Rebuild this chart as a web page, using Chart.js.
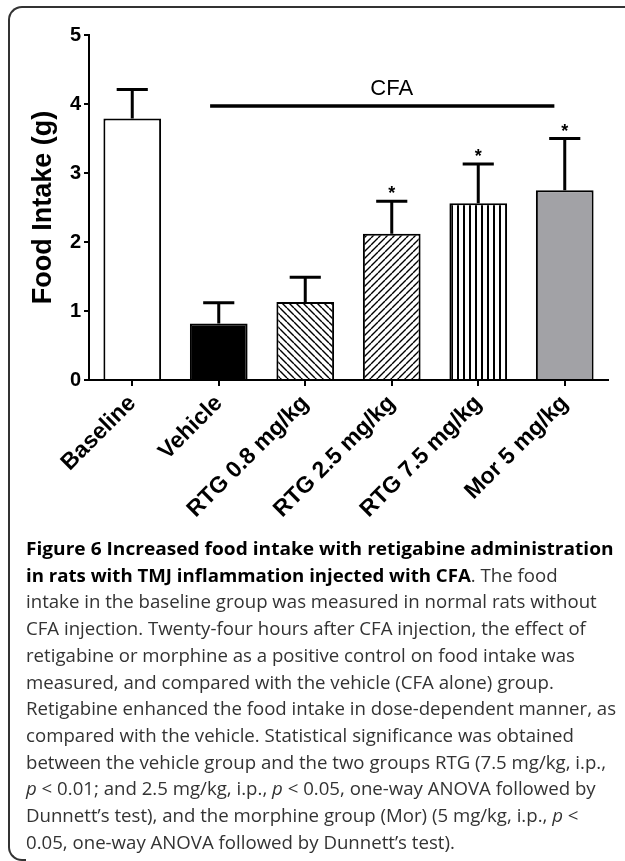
<!DOCTYPE html>
<html>
<head>
<meta charset="utf-8">
<script src="https://cdn.jsdelivr.net/npm/chart.js@4.4.0/dist/chart.umd.min.js"></script>
<style>
  body { margin: 0; background: #fff; width: 625px; height: 861px; overflow: hidden; position: relative; }
  #frame { position: absolute; left: 8px; top: 6px; width: 640px; height: 851px;
           border-left: 2px solid #333; border-top: 2px solid #333; border-bottom: 2px solid #333;
           border-radius: 14px 0 0 14px; }
  #cover { position: absolute; left: 26px; top: 850px; width: 620px; height: 12px; background: #fff; }
  #chartBox { position: absolute; left: 0; top: 0; width: 625px; height: 540px; }
  #caption { position: absolute; left: 26px; top: 535px; font-family: "Open Sans", sans-serif;
             font-size: 18px; line-height: 26.7px; color: #333; white-space: nowrap; }
  #caption div { transform: scaleX(1.035); transform-origin: 0 50%; }
  #caption div.first { transform: scaleX(1.062); }
  #caption b { color: #000; }
</style>
</head>
<body>
<div id="frame"></div>
<div id="cover"></div>
<div id="chartBox"><canvas id="foodChart"></canvas></div>
<div id="caption">
  <div class="first"><b>Figure 6 Increased food intake with retigabine administration</b></div>
  <div><b>in rats with TMJ inflammation injected with CFA</b>. The food</div>
  <div>intake in the baseline group was measured in normal rats without</div>
  <div>CFA injection. Twenty-four hours after CFA injection, the effect of</div>
  <div>retigabine or morphine as a positive control on food intake was</div>
  <div>measured, and compared with the vehicle (CFA alone) group.</div>
  <div>Retigabine enhanced the food intake in dose-dependent manner, as</div>
  <div>compared with the vehicle. Statistical significance was obtained</div>
  <div>between the vehicle group and the two groups RTG (7.5 mg/kg, i.p.,</div>
  <div><i>p</i> &lt; 0.01; and 2.5 mg/kg, i.p., <i>p</i> &lt; 0.05, one-way ANOVA followed by</div>
  <div>Dunnett’s test), and the morphine group (Mor) (5 mg/kg, i.p., <i>p</i> &lt;</div>
  <div>0.05, one-way ANOVA followed by Dunnett’s test).</div>
</div>
<script>
// data
const groups = ['Baseline', 'Vehicle', 'RTG 0.8 mg/kg', 'RTG 2.5 mg/kg', 'RTG 7.5 mg/kg', 'Mor 5 mg/kg'];
const means  = [3.79, 0.82, 1.13, 2.12, 2.56, 2.75];
const sem    = [0.42, 0.30, 0.36, 0.47, 0.57, 0.75];
const stars  = ['', '', '', '*', '*', '*'];
const yTicks = [0, 1, 2, 3, 4, 5];
const cfaLevel = 3.97;

const FONT = "'Liberation Sans', Arial, sans-serif";

/* ---------- hatch patterns ---------- */
function makePattern(kind) {
  const c = document.createElement('canvas');
  const s = kind === 'vert' ? 6 : 7;
  c.width = s; c.height = s;
  const g = c.getContext('2d');
  g.fillStyle = '#fff';
  g.fillRect(0, 0, s, s);
  g.strokeStyle = '#000';
  g.beginPath();
  if (kind === 'vert') {
    g.lineWidth = 2;
    g.moveTo(2, 0); g.lineTo(2, s);
  } else {
    g.lineWidth = 1.4;
    for (let k = -s; k <= s; k += s) {
      if (kind === 'back') { g.moveTo(k, 0); g.lineTo(k + s, s); }
      else { g.moveTo(k + s, 0); g.lineTo(k, s); }
    }
  }
  g.stroke();
  return g.createPattern(c, 'repeat');
}

const fills = ['#ffffff', '#000000', makePattern('back'), makePattern('fwd'), makePattern('vert'), '#a2a2a6'];

/* ================= OVERLAY: error bars, CFA bracket, stars ================= */
const overlay = {
  id: 'overlay',
  afterDatasetsDraw(chart) {
    const { ctx, scales: { x, y } } = chart;
    const step = x.getPixelForValue(1) - x.getPixelForValue(0);
    const capHalf = step * 0.18;
    ctx.save();
    ctx.strokeStyle = '#000';
    ctx.fillStyle = '#000';
    ctx.lineWidth = 3;
    means.forEach((m, i) => {
      const cx = x.getPixelForValue(i);
      const yTop = y.getPixelForValue(m + sem[i]);
      ctx.beginPath();
      ctx.moveTo(cx, y.getPixelForValue(m));
      ctx.lineTo(cx, yTop);
      ctx.moveTo(cx - capHalf, yTop);
      ctx.lineTo(cx + capHalf, yTop);
      ctx.stroke();
      if (stars[i]) {
        ctx.font = 'bold 18px ' + FONT;
        ctx.textAlign = 'center';
        ctx.textBaseline = 'alphabetic';
        ctx.fillText(stars[i], cx, yTop - 2);
      }
    });

    // CFA bracket line
    const by = y.getPixelForValue(cfaLevel);
    ctx.lineWidth = 3.5;
    ctx.beginPath();
    ctx.moveTo(x.getPixelForValue(1) - step * 0.1, by);
    ctx.lineTo(x.getPixelForValue(5) - step * 0.12, by);
    ctx.stroke();
    ctx.font = '22px ' + FONT;
    ctx.textAlign = 'center';
    ctx.textBaseline = 'middle';
    ctx.fillText('CFA', x.getPixelForValue(3), by - 17);
    ctx.restore();
  }
};

const ctx = document.getElementById('foodChart');

new Chart(ctx, {
  type: 'bar',
  data: {
    labels: groups,
    datasets: [{
      data: means,
      backgroundColor: fills,
      borderColor: '#000',
      borderWidth: 2,
      borderSkipped: 'bottom',
      categoryPercentage: 1,
      barPercentage: 0.667
    }]
  },
  options: {
    responsive: true,
    maintainAspectRatio: false,
    animation: false,
    layout: { padding: { top: 35, right: 17, left: 0, bottom: 0 } },
    plugins: {
      legend: { display: false },
      tooltip: { enabled: false }
    },
    scales: {
      x: {
        grid: { display: true, drawOnChartArea: false, offset: false, tickLength: 6, color: '#000', lineWidth: 2 },
        border: { color: '#000', width: 2 },
        ticks: {
          color: '#000',
          font: { family: FONT, size: 23, weight: 'bold' },
          minRotation: 45, maxRotation: 45, padding: 4
        },
        afterFit(scale) { scale.height = 160; }
      },
      y: {
        min: 0, max: 5,
        afterBuildTicks(scale) { scale.ticks = yTicks.map(v => ({ value: v })); },
        grid: { display: true, drawOnChartArea: false, tickLength: 5, color: '#000', lineWidth: 2 },
        border: { color: '#000', width: 2 },
        ticks: {
          color: '#000',
          font: { family: FONT, size: 20, weight: 'bold' },
          padding: 3
        },
        title: {
          display: true,
          text: 'Food Intake (g)',
          color: '#000',
          font: { family: FONT, size: 27, weight: 'bold' },
          padding: { top: 27, bottom: 0 }
        },
        afterFit(scale) { scale.width = 89; }
      }
    }
  },
  plugins: [overlay]
});
</script>
</body>
</html>
